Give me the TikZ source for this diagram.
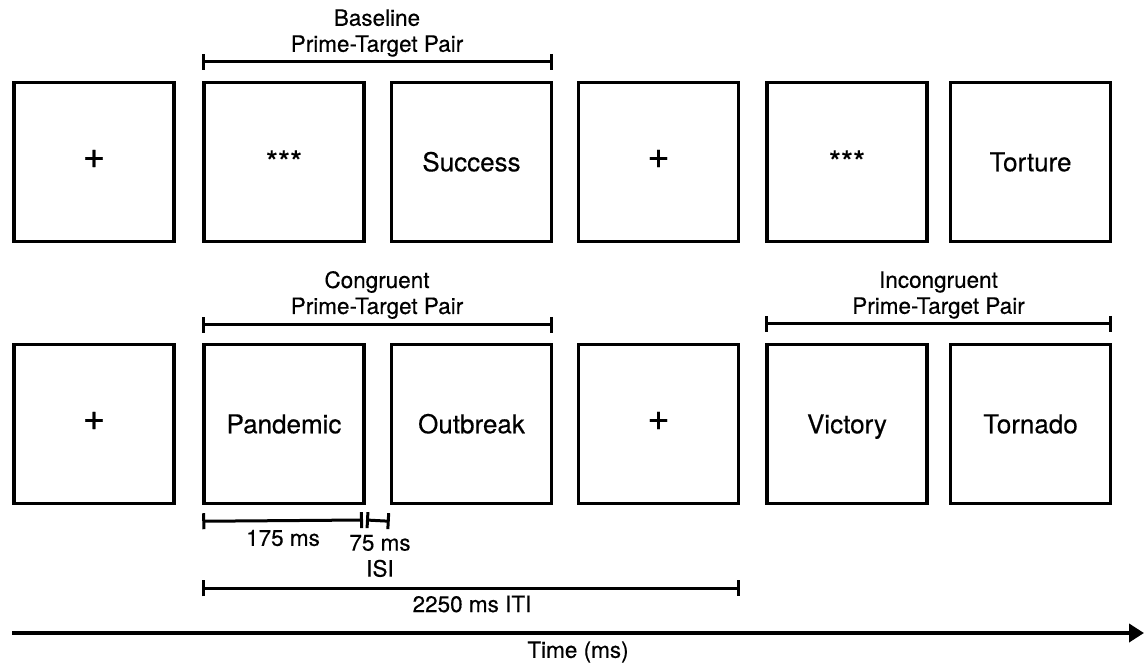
\documentclass[tikz,border=0pt]{standalone}
\usepackage{fontspec}
\setmainfont[FakeBold=0.4]{TeX Gyre Heros}
\usetikzlibrary{arrows.meta}
\begin{document}
\begin{tikzpicture}[x=1pt,y=-1pt,
  stim/.style={draw, line width=3.5pt, minimum width=160pt, minimum height=159pt, inner sep=0pt, text height=18.5pt, text depth=0pt, font=\fontsize{26}{30}\selectfont},
  fix/.style={stim, font=\fontsize{38}{40}\selectfont, text height=12pt},
  mask/.style={stim, font=\fontsize{31}{34}\selectfont, text height=22pt},
  lab/.style={font=\fontsize{22.5}{26}\selectfont, inner sep=0pt, align=center},
  span/.style={line width=3pt, {Bar[width=16pt,line width=3pt]}-{Bar[width=16pt,line width=3pt]}},
  timeaxis/.style={line width=4.5pt, -{Triangle[length=15pt,width=18pt]}}]
\useasboundingbox (0,0) rectangle (1146,664);
% row 1
\node[fix] (f1) at (94,162) {+};
\node[mask] (p1) at (284,162) {***};
\node[stim] (t1) at (471.5,162) {Success};
\node[fix] (f2) at (658.5,162) {+};
\node[mask] (p2) at (847,162) {***};
\node[stim] (t2) at (1030.5,162) {Torture};
% row 2
\node[fix] (f3) at (94,424) {+};
\node[stim] (p3) at (284,424) {Pandemic};
\node[stim] (t3) at (471.5,424) {Outbreak};
\node[fix] (f4) at (658.5,424) {+};
\node[stim] (p4) at (847,424) {Victory};
\node[stim] (t4) at (1030.5,424) {Tornado};
% brackets
\coordinate (b1s) at ([yshift=19pt]p1.north west);
\coordinate (b1e) at ([yshift=19pt]t1.north east);
\coordinate (b2s) at ([yshift=18pt]p3.north west);
\coordinate (b2e) at ([yshift=18pt]t3.north east);
\coordinate (b3s) at ([yshift=19pt]p4.north west);
\coordinate (b3e) at ([yshift=19pt]t4.north east);
\draw[span] (b1s) -- (b1e);
\draw[span] (b2s) -- (b2e);
\draw[span] (b3s) -- (b3e);
\node[lab] (l1) at (377,33) {Baseline\\Prime-Target Pair};
\node[lab] (l2) at (377,295) {Congruent\\Prime-Target Pair};
\node[lab] (l3) at (938.5,295) {Incongruent\\Prime-Target Pair};
% durations
\coordinate (d0) at ([yshift=-16pt]p3.south west);
\coordinate (d1) at (363,520);
\coordinate (d2) at (366,520);
\coordinate (d3) at ([yshift=-16pt]t3.south west);
\draw[span] (d0) -- (d1);
\draw[span] (d2) -- (d3);
\node[lab] (l175) at (283,538) {175 ms};
\node[lab] (l75) at (380,556) {75 ms\\ISI};
\coordinate (i0) at ([yshift=-83pt]p3.south west);
\coordinate (i1) at ([yshift=-83pt]f4.south east);
\draw[span] (i0) -- (i1);
\node[lab] (liti) at (472,604) {2250 ms ITI};
% time axis
\coordinate (ta) at (12,633);
\coordinate (tb) at (1144,633);
\draw[timeaxis] (ta) -- (tb);
\node[lab] (ltime) at (578,652) {Time (ms)};
\end{tikzpicture}
\end{document}
